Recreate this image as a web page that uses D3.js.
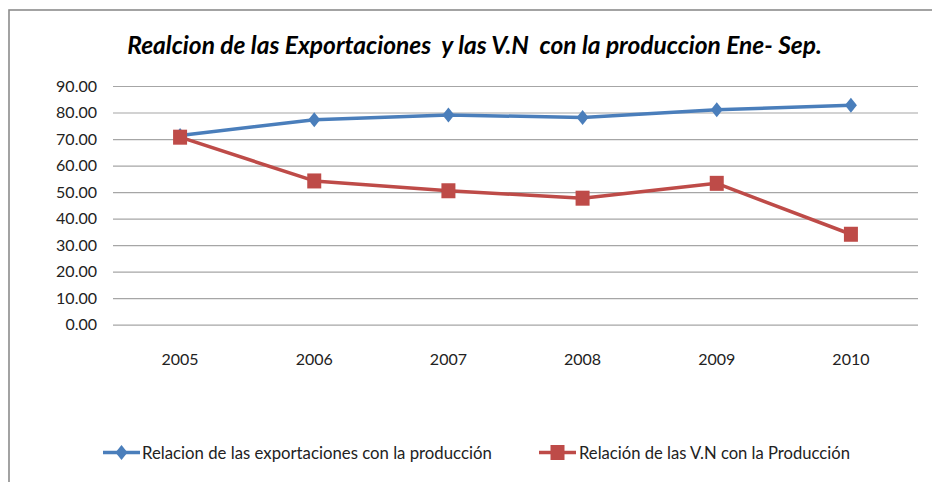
<!DOCTYPE html>
<html><head><meta charset="utf-8">
<script src="https://cdn.jsdelivr.net/npm/d3@7"></script>
<style>body{margin:0;background:#fff;}svg{display:block;}</style>
</head><body>
<script>
const categories = ["2005","2006","2007","2008","2009","2010"];
const exportaciones = [71.3, 77.3, 79.1, 78.1, 81.0, 82.7];
const ventasNacionales = [70.7, 54.2, 50.5, 47.7, 53.3, 34.1];
const yTicks = [0,10,20,30,40,50,60,70,80,90];
const titleText = "Realcion de las Exportaciones  y las V.N  con la produccion Ene- Sep.";
const legendLabels = ["Relacion de las exportaciones con la producción","Relación de las V.N con la Producción"];

const W = 932, H = 482;
const font = "Lato, 'Open Sans', sans-serif";
const svg = d3.select("body").append("svg").attr("width", W).attr("height", H);
svg.append("rect").attr("width", W).attr("height", H).attr("fill", "#fff");
// frame
svg.append("rect").attr("x", 9).attr("y", 10).attr("width", 940).attr("height", 500)
  .attr("fill", "none").attr("stroke", "#8c8c8c").attr("stroke-width", 1.6);

const x = d3.scaleBand().domain(categories).range([113, 918]);
const y = d3.scaleLinear().domain([0, 90]).range([324.7, 86]);

// title
const t = svg.append("text").attr("x", 474.5).attr("y", 54).attr("text-anchor", "middle")
  .style("white-space", "pre").attr("font-family", font).attr("font-weight", "bold")
  .attr("font-style", "italic").attr("font-size", 23).attr("fill", "#000").text(titleText);
const tl = t.node().getComputedTextLength();
t.attr("font-size", 23 * 695 / tl);

// grid
const gy = svg.append("g").attr("transform", "translate(113,0)")
  .call(d3.axisLeft(y).tickValues(yTicks).tickSize(-805).tickFormat(d3.format(".2f")).tickPadding(16));
gy.select(".domain").remove();
gy.selectAll(".tick line").attr("stroke", "#a6a6a6").attr("stroke-width", 1.2);
gy.selectAll(".tick text").attr("font-family", font).attr("font-size", 16).attr("fill", "#222");

const gx = svg.append("g").attr("transform", "translate(0,324.7)")
  .call(d3.axisBottom(x).tickSize(0).tickPadding(29));
gx.select(".domain").remove();
gx.selectAll(".tick text").attr("font-family", font).attr("font-size", 16).attr("fill", "#222");

const cx = d => x(d) + x.bandwidth() / 2;
const blue = "#4a7ebb", red = "#be4b48";

const line = d3.line().x((d, i) => cx(categories[i])).y(d => y(d));
svg.append("path").datum(exportaciones).attr("d", line).attr("fill", "none")
  .attr("stroke", blue).attr("stroke-width", 3.5).attr("stroke-linejoin", "round");
svg.append("path").datum(ventasNacionales).attr("d", line).attr("fill", "none")
  .attr("stroke", red).attr("stroke-width", 3.5).attr("stroke-linejoin", "round");

const diamond = (cxv, cyv) => `M${cxv},${cyv-7.5}L${cxv+6},${cyv}L${cxv},${cyv+7.5}L${cxv-6},${cyv}Z`;
svg.append("g").selectAll("path").data(exportaciones).join("path")
  .attr("d", (d, i) => diamond(cx(categories[i]), y(d))).attr("fill", blue);
svg.append("g").selectAll("rect").data(ventasNacionales).join("rect")
  .attr("x", (d, i) => cx(categories[i]) - 7).attr("y", d => y(d) - 7.5)
  .attr("width", 14).attr("height", 15).attr("fill", red);

// legend
const ly = 452.5;
const leg = [
  {x0: 103, x1: 140, tx: 142, tw: 350, color: blue, type: "d"},
  {x0: 539, x1: 576, tx: 579, tw: 271, color: red, type: "s"}
];
leg.forEach((l, i) => {
  svg.append("line").attr("x1", l.x0).attr("x2", l.x1).attr("y1", ly).attr("y2", ly)
    .attr("stroke", l.color).attr("stroke-width", 3.5);
  const m = (l.x0 + l.x1) / 2;
  if (l.type === "d") svg.append("path").attr("d", diamond(m, ly)).attr("fill", l.color);
  else svg.append("rect").attr("x", m - 7).attr("y", ly - 7.5).attr("width", 14).attr("height", 15).attr("fill", l.color);
  const lt = svg.append("text").attr("x", l.tx).attr("y", ly + 6).attr("font-family", font)
    .attr("font-size", 16).attr("fill", "#222").text(legendLabels[i]);
  const w = lt.node().getComputedTextLength();
  lt.attr("font-size", 16 * l.tw / w);
});
</script>
</body></html>
